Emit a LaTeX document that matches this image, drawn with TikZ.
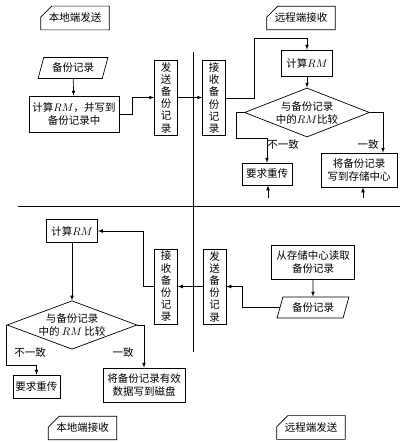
\documentclass[tikz,border=0pt]{standalone}
\usepackage{fontspec}
\newfontfamily\cjk{Noto Sans CJK SC}
\usetikzlibrary{arrows,shapes.geometric,shapes.misc,calc}

\newcommand{\zh}{\cjk\fontsize{10.5}{13}\selectfont}

\tikzset{
  box/.style={draw, font=\zh, align=center, inner sep=2pt},
  vbox/.style={box, minimum width=23pt, minimum height=75pt, font=\cjk\fontsize{10.5}{12.2}\selectfont},
  io/.style={draw, trapezium, trapezium left angle=70, trapezium right angle=110,
             trapezium stretches=true, minimum width=70pt, minimum height=21pt, font=\zh, inner sep=1pt},
  cmp/.style={draw, diamond, aspect=2.6, inner sep=0pt, align=center, font=\zh},
  tag/.style={draw, chamfered rectangle, chamfered rectangle corners=north west,
              chamfered rectangle xsep=6pt, chamfered rectangle ysep=5pt, font=\zh, inner sep=2pt, minimum height=20pt},
  lbl/.style={font=\zh, inner sep=1pt}
}

\begin{document}
\begin{tikzpicture}[x=1pt,y=-1pt,line width=0.7pt,>=latex]
\useasboundingbox (0,0) rectangle (405,442);

% local send
\node[tag] (tagA) at (75,18) {本地端发送};
\node[io] (dataA) at (73,68) {备份记录};
\node[box, minimum width=90pt, minimum height=36pt] (calcA) at (74,114) {计算$RM$，并写到\\备份记录中};
\node[vbox] (sendA) at (166,97.5) {发\\送\\备\\份\\记\\录};

% remote receive
\node[tag] (tagB) at (301,18) {远程端接收};
\node[vbox] (recvB) at (214,98) {接\\收\\备\\份\\记\\录};
\node[box, minimum width=51pt, minimum height=26pt] (calcB) at (307,63) {计算$RM$};
\node[cmp, minimum width=125pt, minimum height=49pt] (cmpB) at (307,112.5) {与备份记录\\中的$RM$比较};
\node[box, minimum width=50pt, minimum height=22pt] (retryB) at (267,174) {要求重传};
\node[box, minimum width=76pt, minimum height=34pt] (storeB) at (359,170) {将备份记录\\写到存储中心};
\node[lbl] (noB) at (283,145) {不一致};
\node[lbl] (yesB) at (368,145) {一致};
\coordinate (inB1) at (268,198);
\coordinate (inB2) at (363,198);

% remote send
\node[box, minimum width=83pt, minimum height=34pt] (readD) at (313,262) {从存储中心读取\\备份记录};
\node[io, minimum width=72pt] (dataD) at (313,307.5) {备份记录};
\node[vbox] (sendD) at (214.5,286.5) {发\\送\\备\\份\\记\\录};
\node[tag] (tagD) at (311,427.5) {远程端发送};

% local receive
\node[vbox] (recvC) at (166,286.5) {接\\收\\备\\份\\记\\录};
\node[box, minimum width=51pt, minimum height=23pt] (calcC) at (72,231) {计算$RM$};
\node[cmp, minimum width=130pt, minimum height=46pt] (cmpC) at (72,325) {与备份记录\\中的 $RM$ 比较};
\node[box, minimum width=47pt, minimum height=23pt] (retryC) at (36.5,386.5) {要求重传};
\node[box, minimum width=82pt, minimum height=34pt] (storeC) at (144,385) {将备份记录有效\\数据写到磁盘};
\node[lbl] (noC) at (30,353) {不一致};
\node[lbl] (yesC) at (123,353) {一致};
\node[tag] (tagC) at (82.5,428) {本地端接收};

% dividers
\draw (193,52) -- (193,352);
\draw[line width=0.9pt] (18,206) -- (400,206);

% connectors
\draw[->] (dataA) -- (calcA);
\draw[->] (calcA.east) -- ++(13,0) |- (sendA.west);
\draw[->] (sendA.east) -- (sendA.east -| recvB.west);
\draw[->] (recvB.east) -- ++(28,0) |- ($(calcB.north)+(0,-11)$) -- (calcB.north);
\draw[->] (calcB) -- (cmpB);
\draw[->] (cmpB.west) -- ++(-8,0) -- ++(0,26) -| (retryB.north);
\draw[->] (cmpB.east) -| ($(storeB.north)+(24,0)$);
\draw[->] (inB1) -- (inB1 |- retryB.south);
\draw[->] (inB2) -- (inB2 |- storeB.south);

\draw[->] (readD) -- (dataD);
\draw[->] (dataD.west) -- ++(-37,0) |- (sendD.east);
\draw[->] (sendD.west) -- (sendD.west -| recvC.east);
\draw[->] (recvC.west) -- ++(-11,0) |- (calcC.east);
\draw[->] (calcC) -- (cmpC);
\draw[->] (cmpC.west) -- ++(0,40) -| (retryC.north);
\draw[->] (cmpC.east) -| (storeC.north);
\end{tikzpicture}
\end{document}
